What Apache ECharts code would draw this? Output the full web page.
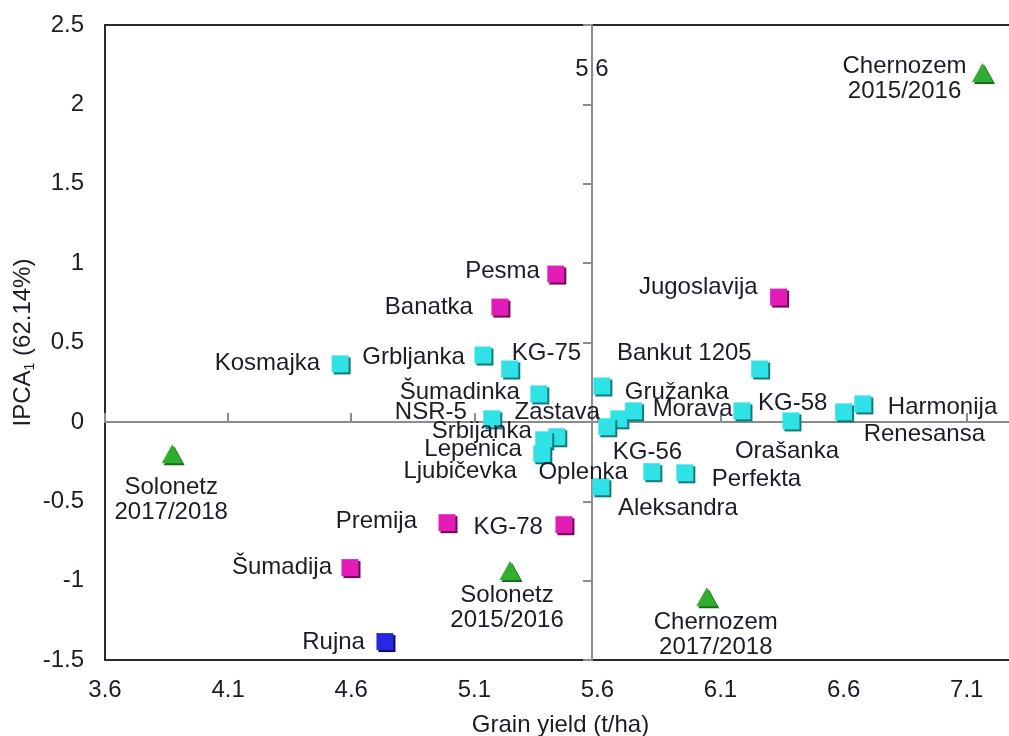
<!DOCTYPE html>
<html>
<head>
<meta charset="utf-8">
<script src="https://cdn.jsdelivr.net/npm/echarts@6/dist/echarts.min.js"></script>
<style>
  html, body { margin: 0; padding: 0; background: #fff; overflow: hidden; }
  #chart { width: 1024px; height: 736px; }
</style>
</head>
<body>
<div id="chart"></div>
<script>
// tick labels on the x axis
const xTicks = [3.6, 4.1, 4.6, 5.1, 5.6, 6.1, 6.6, 7.1]

// cyan cultivars
const cyanNames = ['Kosmajka', 'Grbljanka', 'KG-75', 'Šumadinka', 'NSR-5', 'Zastava', 'Srbijanka',
  'Lepenica', 'Ljubičevka', 'Gružanka', 'Morava', 'KG-56', 'Bankut 1205', 'KG-58', 'Orašanka',
  'Renesansa', 'Harmonija', 'Oplenka', 'Perfekta', 'Aleksandra']
const cyanYield = [4.555, 5.135, 5.244, 5.362, 5.171, 5.687, 5.435,
  5.382, 5.374, 5.618, 5.747, 5.638, 6.259, 6.187, 6.386,
  6.600, 6.678, 5.821, 5.955, 5.614]
const cyanIpca = [0.365, 0.421, 0.333, 0.176, 0.019, 0.019, -0.094,
  -0.113, -0.201, 0.226, 0.069, -0.031, 0.333, 0.069, 0.006,
  0.063, 0.113, -0.314, -0.321, -0.409]

// magenta cultivars
const magentaNames = ['Pesma', 'Banatka', 'Jugoslavija', 'Premija', 'KG-78', 'Šumadija']
const magentaYield = [5.431, 5.204, 6.336, 4.989, 5.464, 4.595]
const magentaIpca = [0.931, 0.723, 0.786, -0.635, -0.648, -0.918]

// blue cultivar
const blueNames = ['Rujna']
const blueYield = [4.737]
const blueIpca = [-1.384]

// environments
const envNames = ['Chernozem\n2015/2016', 'Solonetz\n2017/2018', 'Solonetz\n2015/2016', 'Chernozem\n2017/2018']
const envYield = [7.164, 3.873, 5.245, 6.044]
const envIpca = [2.201, -0.201, -0.937, -1.101]

// label placement: [align, dx, dy] relative to the marker centre
const labelPlace = {
  'Kosmajka': ['right', -20, -1],
  'Grbljanka': ['right', -18, 2],
  'KG-75': ['left', 2, -16],
  'Šumadinka': ['right', -19, -2],
  'NSR-5': ['right', -25, -6],
  'Zastava': ['right', -19, -6],
  'Srbijanka': ['right', -25, -5],
  'Lepenica': ['right', -22, 10],
  'Ljubičevka': ['right', -25, 18],
  'Gružanka': ['left', 23, 6],
  'Morava': ['left', 19, -2],
  'KG-56': ['left', 6, 26],
  'Bankut 1205': ['right', -8, -16],
  'KG-58': ['left', 16, -8],
  'Orašanka': ['center', -4, 30],
  'Renesansa': ['left', 20, 23],
  'Harmonija': ['left', 25, 3],
  'Oplenka': ['right', -24, 1],
  'Perfekta': ['left', 27, 7],
  'Aleksandra': ['left', 17, 22],
  'Pesma': ['right', -16, -3],
  'Banatka': ['right', -27, 0],
  'Jugoslavija': ['right', -21, -10],
  'Premija': ['right', -30, -1],
  'KG-78': ['right', -21, 3],
  'Šumadija': ['right', -18, 0],
  'Rujna': ['right', -20, 1],
  'Chernozem\n2015/2016': ['center', -78, 6],
  'Solonetz\n2017/2018': ['center', -1, 46],
  'Solonetz\n2015/2016': ['center', -3, 37],
  'Chernozem\n2017/2018': ['center', 9, 38]
}

const textColor = '#1c1c28'
const font = 'Liberation Sans, Arial, sans-serif'
const fs = 24

function points(names, xs, ys) {
  return names.map((n, i) => {
    const p = labelPlace[n]
    return { name: n, value: [xs[i], ys[i]], label: { align: p[0], offset: [p[1], p[2]] } }
  })
}

function scatter(names, xs, ys, symbol, size, color, shade) {
  return {
    type: 'scatter',
    symbol: symbol,
    symbolSize: size,
    data: points(names, xs, ys),
    itemStyle: {
      color: color,
      shadowColor: shade,
      shadowOffsetX: 2,
      shadowOffsetY: 2,
      shadowBlur: 0,
      opacity: 1
    },
    label: {
      show: true,
      position: 'inside',
      formatter: '{b}',
      fontSize: fs,
      lineHeight: 25,
      fontFamily: font,
      color: textColor,
      verticalAlign: 'middle'
    },
    emphasis: { disabled: true },
    z: 3
  }
}

const crossColor = '#8c8c8c'

const option = {
  animation: false,
  backgroundColor: '#fff',
  grid: {
    left: 105, top: 25, width: 911, height: 635,
    outerBoundsMode: 'none', containLabel: false,
    show: true, borderColor: '#2a2a2a', borderWidth: 2, backgroundColor: 'transparent'
  },
  xAxis: [
    {
      type: 'value', min: 3.6, max: 7.3,
      name: 'Grain yield (t/ha)', nameLocation: 'middle', nameGap: 53,
      nameTextStyle: { fontSize: fs, fontFamily: font, color: textColor },
      axisLine: { show: false, onZero: false },
      axisTick: { show: false },
      splitLine: { show: false },
      axisLabel: { customValues: xTicks, fontSize: fs, fontFamily: font, color: textColor, margin: 18 }
    },
    {
      type: 'value', min: 3.6, max: 7.3,
      axisLine: { show: true, onZero: true, onZeroAxisIndex: 0, lineStyle: { color: crossColor, width: 2 } },
      axisTick: { show: true, customValues: xTicks, length: 9, lineStyle: { color: crossColor, width: 2 } },
      axisLabel: { show: false },
      splitLine: { show: false }
    }
  ],
  yAxis: [
    {
      type: 'value', min: -1.5, max: 2.5, interval: 0.5,
      name: '{m|IPCA}{s|1}{m| (62.14%)}', nameLocation: 'middle', nameGap: 68,
      nameMoveOverlap: false,
      nameTextStyle: {
        rich: {
          m: { fontSize: fs, fontFamily: font, color: textColor, lineHeight: 28, verticalAlign: 'middle' },
          s: { fontSize: 14, fontFamily: font, color: textColor, lineHeight: 28, verticalAlign: 'bottom' }
        }
      },
      axisLine: { show: false },
      axisTick: { show: false },
      splitLine: { show: false },
      axisLabel: { fontSize: fs, fontFamily: font, color: textColor, margin: 21 }
    },
    {
      type: 'value', min: -1.5, max: 2.5, interval: 0.5,
      position: 'left', offset: -487,
      name: '5.6', nameLocation: 'end', nameGap: -44,
      nameTextStyle: { fontSize: fs, fontFamily: font, color: textColor, align: 'center', verticalAlign: 'middle' },
      axisLine: { show: true, onZero: false, lineStyle: { color: crossColor, width: 2 } },
      axisTick: { show: true, length: 9, lineStyle: { color: crossColor, width: 2 } },
      axisLabel: { show: false },
      splitLine: { show: false }
    }
  ],
  series: [
    scatter(envNames, envYield, envIpca, 'triangle', [21, 19], '#2fae2f', '#186e18'),
    scatter(cyanNames, cyanYield, cyanIpca, 'rect', 17, '#2fe2e6', '#137a7c'),
    scatter(magentaNames, magentaYield, magentaIpca, 'rect', 17, '#e21db6', '#6e0a58'),
    scatter(blueNames, blueYield, blueIpca, 'rect', 17, '#2828e2', '#0c0c66')
  ]
}

const chart = echarts.init(document.getElementById('chart'))
chart.setOption(option)
</script>
</body>
</html>
